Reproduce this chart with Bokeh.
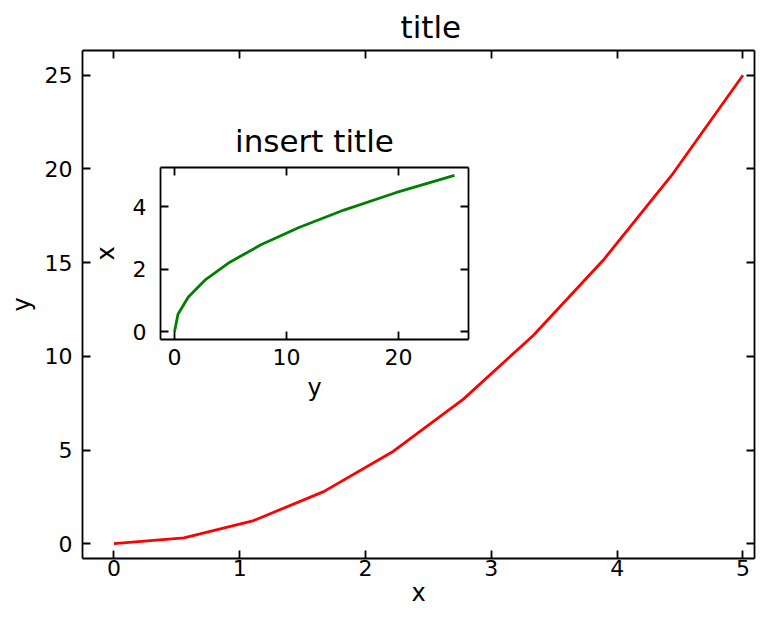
from bokeh.plotting import figure
from bokeh.models import Range1d, LinearAxis, FixedTicker, CustomJSTickFormatter
from bokeh.layouts import column
from bokeh.embed import file_html
from bokeh.resources import INLINE

# data
x_vals = [0.0, 0.556, 1.111, 1.667, 2.222, 2.778, 3.333, 3.889, 4.444, 5.0]
y_vals = [0.0, 0.309, 1.235, 2.778, 4.938, 7.716, 11.111, 15.123, 19.753, 25.0]
main_xticks = [0, 1, 2, 3, 4, 5]
main_yticks = [0, 5, 10, 15, 20, 25]
inset_xticks = [0, 10, 20]
inset_yticks = [0, 2, 4]

FONT = "DejaVu Sans"
TICK_FS = "22px"
LABEL_FS = "24px"
TITLE_FS = "31px"
LW = 1.8


def style_axis(ax, ticks, labels=True, standoff=9, label_standoff=5):
    ax.ticker = FixedTicker(ticks=ticks)
    ax.minor_tick_line_color = None
    ax.minor_tick_in = 0
    ax.minor_tick_out = 0
    ax.major_tick_in = 8
    ax.major_tick_out = 0
    ax.major_tick_line_width = LW
    ax.major_tick_line_color = "black"
    ax.axis_line_width = LW
    ax.axis_line_color = "black"
    ax.major_label_text_font = FONT
    ax.major_label_text_color = "black"
    ax.axis_label_text_font = FONT
    ax.axis_label_text_font_style = "normal"
    ax.axis_label_text_font_size = LABEL_FS
    ax.axis_label_text_color = "black"
    ax.axis_label_standoff = label_standoff
    ax.major_label_text_font_size = TICK_FS
    if labels:
        ax.major_label_standoff = standoff
    else:
        ax.formatter = CustomJSTickFormatter(code="return ''")
        ax.major_label_standoff = 0


def build(width, height, xr, yr, xt, yt, borders, title, xlabel, ylabel,
          xs, ys, title_standoff, transparent=False):
    p = figure(width=width, height=height, x_range=xr, y_range=yr,
               output_backend="svg", toolbar_location=None, frame_align=False,
               min_border_left=borders[0], min_border_right=borders[1],
               min_border_top=borders[2], min_border_bottom=borders[3])
    p.grid.visible = False
    p.outline_line_color = None
    p.background_fill_color = "white"
    if transparent:
        p.border_fill_alpha = 0
    else:
        p.border_fill_color = "white"
    p.title.text = title
    p.title.text_font = FONT
    p.title.text_font_size = TITLE_FS
    p.title.text_font_style = "normal"
    p.title.align = "center"
    p.title.text_color = "black"
    p.title.standoff = title_standoff
    p.xaxis.axis_label = xlabel
    p.yaxis.axis_label = ylabel
    style_axis(p.xaxis[0], xt, True, xs[0], xs[1])
    style_axis(p.yaxis[0], yt, True, ys[0], ys[1])
    top = LinearAxis()
    style_axis(top, xt, False)
    p.add_layout(top, "above")
    right = LinearAxis()
    style_axis(right, yt, False)
    p.add_layout(right, "right")
    return p


main = build(758, 623, Range1d(-0.25, 5.092), Range1d(-0.79, 26.32),
             main_xticks, main_yticks, (82, 4, 42, 65), "title", "x", "y",
             (1, 0), (10, 6), 12)
main.title.align = "left"
main.title.offset = 318
main.line(x_vals, y_vals, line_color="red", line_width=2.8)

inset = build(402, 299, Range1d(-1.25, 26.25), Range1d(-0.25, 5.25),
              inset_xticks, inset_yticks, (90, 4, 54, 72), "insert title", "y", "x",
              (9, 6), (14, 10), 17, transparent=True)
inset.line(y_vals, x_vals, line_color="green", line_width=2.8)
inset.styles = {"position": "absolute", "left": "70px", "top": "112px"}

layout = column(main, inset, styles={"position": "relative"})

open("out.html", "w").write(file_html(layout, INLINE))
